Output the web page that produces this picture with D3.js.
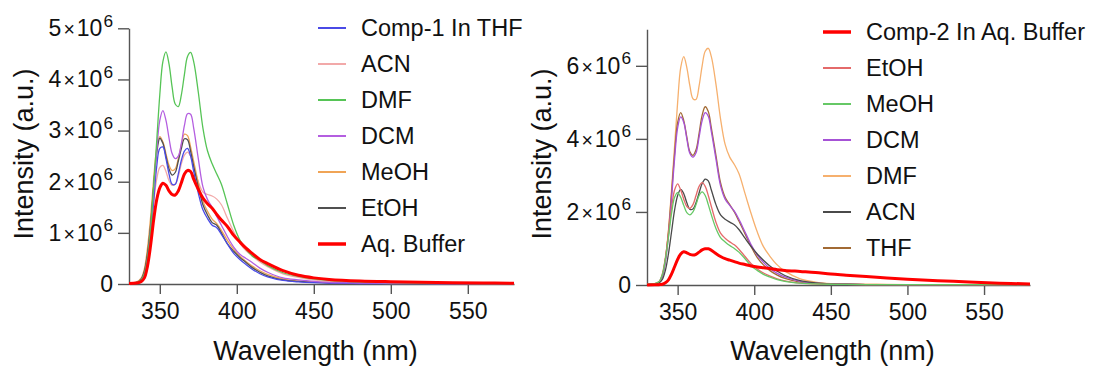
<!DOCTYPE html>
<html>
<head>
<meta charset="utf-8">
<script src="https://cdn.jsdelivr.net/npm/d3@7"></script>
<style>
  body { margin: 0; background: #fff; }
  svg { display: block; font-family: 'Liberation Sans', Arial, sans-serif; }
</style>
</head>
<body>
<svg id="chart" width="1094" height="367"></svg>
<script>
// wavelength grid (nm), intensities in units of 1e6 a.u.
const wavelength = [330, 335, 338, 340, 342, 344, 346, 348, 350, 352, 354, 356, 358, 360,
  362, 364, 366, 368, 370, 372, 375, 378, 381, 384, 387, 390,
  394, 398, 402, 406, 410, 415, 420, 430, 440, 450, 460, 480, 500, 530, 560, 580];

const xTicks = [350, 400, 450, 500, 550];
const yTicksLeft = [0, 1, 2, 3, 4, 5];
const yTicksRight = [0, 2, 4, 6];

// left panel: Comp-1
const namesLeft = ['Comp-1 In THF', 'ACN', 'DMF', 'DCM', 'MeOH', 'EtOH', 'Aq. Buffer'];
const thf1 = [0.01, 0.02, 0.05, 0.15, 0.4, 0.9, 1.6, 2.3, 2.65, 2.68, 2.45, 2.15, 1.95, 1.95,
  2.15, 2.42, 2.6, 2.65, 2.5, 2.2, 1.78, 1.45, 1.28, 1.15, 1.1, 0.97,
  0.78, 0.6, 0.48, 0.38, 0.29, 0.2, 0.14, 0.07, 0.04, 0.025, 0.02, 0.01, 0.01, 0.01, 0.01, 0.01];
const acn1 = [0.02, 0.03, 0.08, 0.2, 0.5, 1.0, 1.6, 2.05, 2.28, 2.32, 2.2, 2.02, 1.93, 1.95,
  2.1, 2.35, 2.52, 2.58, 2.5, 2.3, 2.0, 1.8, 1.75, 1.72, 1.66, 1.55,
  1.28, 1.02, 0.8, 0.65, 0.55, 0.43, 0.34, 0.2, 0.13, 0.08, 0.05, 0.03, 0.02, 0.015, 0.01, 0.01];
const dmf1 = [0.02, 0.03, 0.08, 0.2, 0.5, 1.05, 1.9, 2.8, 3.7, 4.35, 4.54, 4.3, 3.85, 3.52,
  3.47, 3.7, 4.1, 4.45, 4.53, 4.35, 3.75, 3.05, 2.6, 2.35, 2.15, 1.95,
  1.55, 1.15, 0.86, 0.68, 0.55, 0.46, 0.36, 0.22, 0.15, 0.1, 0.07, 0.04, 0.025, 0.015, 0.01, 0.01];
const dcm1 = [0.02, 0.03, 0.08, 0.2, 0.5, 1.05, 1.8, 2.6, 3.2, 3.39, 3.2, 2.85, 2.55, 2.45,
  2.5, 2.75, 3.1, 3.33, 3.32, 3.05, 2.45, 1.9, 1.65, 1.5, 1.32, 1.15,
  0.92, 0.72, 0.58, 0.5, 0.42, 0.31, 0.23, 0.12, 0.08, 0.05, 0.03, 0.02, 0.015, 0.01, 0.01, 0.01];
const meoh1 = [0.02, 0.04, 0.12, 0.3, 0.7, 1.3, 2.05, 2.65, 2.88, 2.78, 2.55, 2.32, 2.22, 2.25,
  2.45, 2.72, 2.93, 2.9, 2.68, 2.4, 1.98, 1.62, 1.42, 1.27, 1.18, 1.05,
  0.85, 0.68, 0.55, 0.44, 0.35, 0.26, 0.19, 0.1, 0.06, 0.04, 0.03, 0.02, 0.01, 0.01, 0.01, 0.01];
const etoh1 = [0.02, 0.03, 0.1, 0.25, 0.6, 1.15, 1.9, 2.55, 2.85, 2.75, 2.5, 2.25, 2.13, 2.18,
  2.4, 2.65, 2.84, 2.82, 2.6, 2.3, 1.9, 1.55, 1.35, 1.2, 1.15, 1.0,
  0.78, 0.64, 0.52, 0.42, 0.32, 0.23, 0.16, 0.08, 0.05, 0.03, 0.02, 0.015, 0.01, 0.01, 0.01, 0.01];
const buffer1 = [0.01, 0.02, 0.05, 0.12, 0.35, 0.75, 1.25, 1.65, 1.88, 1.97, 1.93, 1.82, 1.75, 1.74,
  1.82, 1.98, 2.15, 2.22, 2.2, 2.05, 1.85, 1.68, 1.57, 1.48, 1.36, 1.25,
  1.12, 0.95, 0.82, 0.7, 0.6, 0.48, 0.4, 0.26, 0.17, 0.12, 0.09, 0.06, 0.045, 0.03, 0.02, 0.015];

// right panel: Comp-2
const namesRight = ['Comp-2 In Aq. Buffer', 'EtOH', 'MeOH', 'DCM', 'DMF', 'ACN', 'THF'];
const buffer2 = [0, 0.01, 0.01, 0.02, 0.06, 0.14, 0.3, 0.5, 0.7, 0.85, 0.91, 0.88, 0.84, 0.82,
  0.84, 0.9, 0.96, 0.99, 0.99, 0.95, 0.86, 0.78, 0.72, 0.68, 0.64, 0.6,
  0.56, 0.52, 0.49, 0.47, 0.45, 0.42, 0.4, 0.37, 0.34, 0.3, 0.27, 0.21, 0.16, 0.1, 0.05, 0.03];
const etoh2 = [0.02, 0.04, 0.1, 0.3, 0.75, 1.4, 2.1, 2.6, 2.77, 2.6, 2.35, 2.15, 2.1, 2.2,
  2.45, 2.7, 2.8, 2.7, 2.45, 2.15, 1.72, 1.42, 1.28, 1.18, 1.1, 0.98,
  0.78, 0.58, 0.44, 0.33, 0.25, 0.17, 0.11, 0.05, 0.03, 0.02, 0.015, 0.01, 0.01, 0.01, 0.01, 0.01];
const meoh2 = [0.02, 0.04, 0.1, 0.28, 0.7, 1.3, 1.95, 2.4, 2.53, 2.4, 2.18, 1.98, 1.92, 2.0,
  2.2, 2.45, 2.55, 2.45, 2.2, 1.92, 1.55, 1.3, 1.18, 1.08, 1.0, 0.9,
  0.72, 0.52, 0.4, 0.29, 0.22, 0.15, 0.1, 0.05, 0.03, 0.02, 0.015, 0.01, 0.01, 0.01, 0.01, 0.01];
const dcm2 = [0.02, 0.03, 0.07, 0.22, 0.62, 1.35, 2.35, 3.45, 4.3, 4.6, 4.45, 4.0, 3.6, 3.5,
  3.62, 4.05, 4.5, 4.72, 4.62, 4.2, 3.45, 2.72, 2.35, 2.18, 2.02, 1.8,
  1.45, 1.1, 0.82, 0.62, 0.46, 0.32, 0.22, 0.1, 0.05, 0.03, 0.02, 0.01, 0.01, 0.01, 0.01, 0.01];
const dmf2 = [0.02, 0.03, 0.08, 0.25, 0.7, 1.5, 2.6, 3.8, 5.0, 5.95, 6.25, 5.95, 5.45, 5.1,
  5.08, 5.45, 6.0, 6.4, 6.48, 6.25, 5.5, 4.55, 3.85, 3.5, 3.3, 3.05,
  2.5, 1.95, 1.45, 1.05, 0.8, 0.55, 0.38, 0.17, 0.08, 0.04, 0.03, 0.02, 0.01, 0.01, 0.01, 0.01];
const acn2 = [0.02, 0.03, 0.06, 0.15, 0.4, 0.85, 1.45, 2.05, 2.45, 2.62, 2.5, 2.25, 2.07, 2.08,
  2.25, 2.52, 2.78, 2.9, 2.85, 2.6, 2.2, 1.92, 1.8, 1.72, 1.65, 1.52,
  1.28, 1.05, 0.85, 0.68, 0.53, 0.38, 0.26, 0.12, 0.06, 0.03, 0.02, 0.01, 0.01, 0.01, 0.01, 0.01];
const thf2 = [0.02, 0.03, 0.08, 0.25, 0.7, 1.45, 2.5, 3.6, 4.45, 4.72, 4.5, 4.05, 3.65, 3.55,
  3.7, 4.15, 4.65, 4.88, 4.75, 4.3, 3.55, 2.8, 2.4, 2.2, 2.0, 1.75,
  1.4, 1.05, 0.75, 0.55, 0.4, 0.27, 0.18, 0.08, 0.04, 0.02, 0.015, 0.01, 0.01, 0.01, 0.01, 0.01];

const FONT_TICK = 23;
const FONT_TITLE = 27;
const FONT_LEGEND = 23.5;

function powerLabel(text) {
  text.each(function (d) {
    const t = d3.select(this).text(null);
    if (d === 0) {
      t.text('0');
      return;
    }
    t.append('tspan').text(d);
    t.append('tspan').attr('font-size', '0.85em').attr('dx', '2').text('×');
    t.append('tspan').attr('dx', '2').text('10');
    t.append('tspan').attr('font-size', '0.75em').attr('dx', '1').attr('dy', '-0.55em').text('6');
  });
}

function drawPanel(svg, cfg) {
  const g = svg.append('g');

  const xScale = d3.scaleLinear().domain([330, 580]).range([cfg.left, cfg.right]);
  const yScale = d3.scaleLinear().domain([0, cfg.yMax]).range([cfg.bottom, cfg.top]);

  //AXES
  const xAxis = d3.axisBottom(xScale).tickValues(xTicks).tickSize(10).tickSizeOuter(0).tickPadding(9);
  const gx = g.append('g').attr('transform', `translate(0,${cfg.bottom})`).call(xAxis);
  gx.selectAll('text').style('font-size', `${FONT_TICK}px`);

  const yAxis = d3.axisLeft(yScale).tickValues(cfg.yTicks).tickSize(11).tickSizeOuter(0).tickPadding(5);
  const gy = g.append('g').attr('transform', `translate(${cfg.left},0)`).call(yAxis);
  gy.selectAll('text').style('font-size', `${FONT_TICK}px`).call(powerLabel);

  g.selectAll('.domain').attr('stroke', '#555').attr('stroke-width', 1.4);
  g.selectAll('.tick line').attr('stroke', '#555').attr('stroke-width', 1.4);
  g.selectAll('.tick text').attr('fill', '#111').attr('font-family', null);

  //TITLES
  g.append('text')
    .attr('x', (cfg.left + cfg.right) / 2 - 6)
    .attr('y', 360)
    .style('text-anchor', 'middle')
    .style('font-size', `${FONT_TITLE}px`)
    .attr('fill', '#111')
    .text('Wavelength (nm)');

  g.append('text')
    .attr('transform', 'rotate(-90)')
    .attr('x', -154)
    .attr('y', cfg.left - 96)
    .style('text-anchor', 'middle')
    .style('font-size', `${FONT_TITLE}px`)
    .attr('fill', '#111')
    .text('Intensity (a.u.)');

  //LINES
  const line = d3
    .line()
    .x((d, i) => xScale(wavelength[i]))
    .y((d) => yScale(d))
    .curve(d3.curveCatmullRom.alpha(0.5));

  cfg.drawOrder.forEach((i) => {
    const s = cfg.series[i];
    g.append('path')
      .datum(s.values)
      .attr('d', line)
      .attr('fill', 'none')
      .attr('stroke', s.color)
      .attr('stroke-width', s.width)
      .attr('stroke-linejoin', 'round');
  });

  //LEGEND
  const legend = g
    .selectAll('.legend-item')
    .data(cfg.series)
    .enter()
    .append('g')
    .attr('transform', (d, i) => `translate(${cfg.legendX},${cfg.legendY + i * 36})`);

  legend
    .append('line')
    .attr('x1', 0)
    .attr('x2', 28)
    .attr('stroke', (d) => d.color)
    .attr('stroke-width', (d) => (d.width > 2 ? 3.5 : 2));

  legend
    .append('text')
    .attr('x', 43)
    .attr('dy', '0.36em')
    .style('font-size', `${FONT_LEGEND}px`)
    .attr('fill', '#111')
    .text((d) => d.name);
}

const svg = d3.select('#chart');

const leftColors = ['#4a4ae6', '#f2a9a9', '#56c456', '#b45ee0', '#f0a456', '#505050', '#ff0000'];
const leftValues = [thf1, acn1, dmf1, dcm1, meoh1, etoh1, buffer1];
drawPanel(svg, {
  left: 129,
  right: 514,
  top: 28.3,
  bottom: 284,
  yMax: 5,
  yTicks: yTicksLeft,
  legendX: 318,
  legendY: 28,
  series: namesLeft.map((n, i) => ({
    name: n,
    values: leftValues[i],
    color: leftColors[i],
    width: i === 6 ? 3 : 1.3,
  })),
  drawOrder: [1, 4, 5, 0, 3, 2, 6],
});

const rightColors = ['#ff0000', '#e46a6a', '#66c866', '#a652d6', '#f6b06e', '#4a4a4a', '#a26a34'];
const rightValues = [buffer2, etoh2, meoh2, dcm2, dmf2, acn2, thf2];
drawPanel(svg, {
  left: 647,
  right: 1030,
  top: 29.3,
  bottom: 285,
  yMax: 7,
  yTicks: yTicksRight,
  legendX: 823,
  legendY: 32,
  series: namesRight.map((n, i) => ({
    name: n,
    values: rightValues[i],
    color: rightColors[i],
    width: i === 0 ? 3 : 1.3,
  })),
  drawOrder: [4, 6, 3, 5, 1, 2, 0],
});
</script>
</body>
</html>
